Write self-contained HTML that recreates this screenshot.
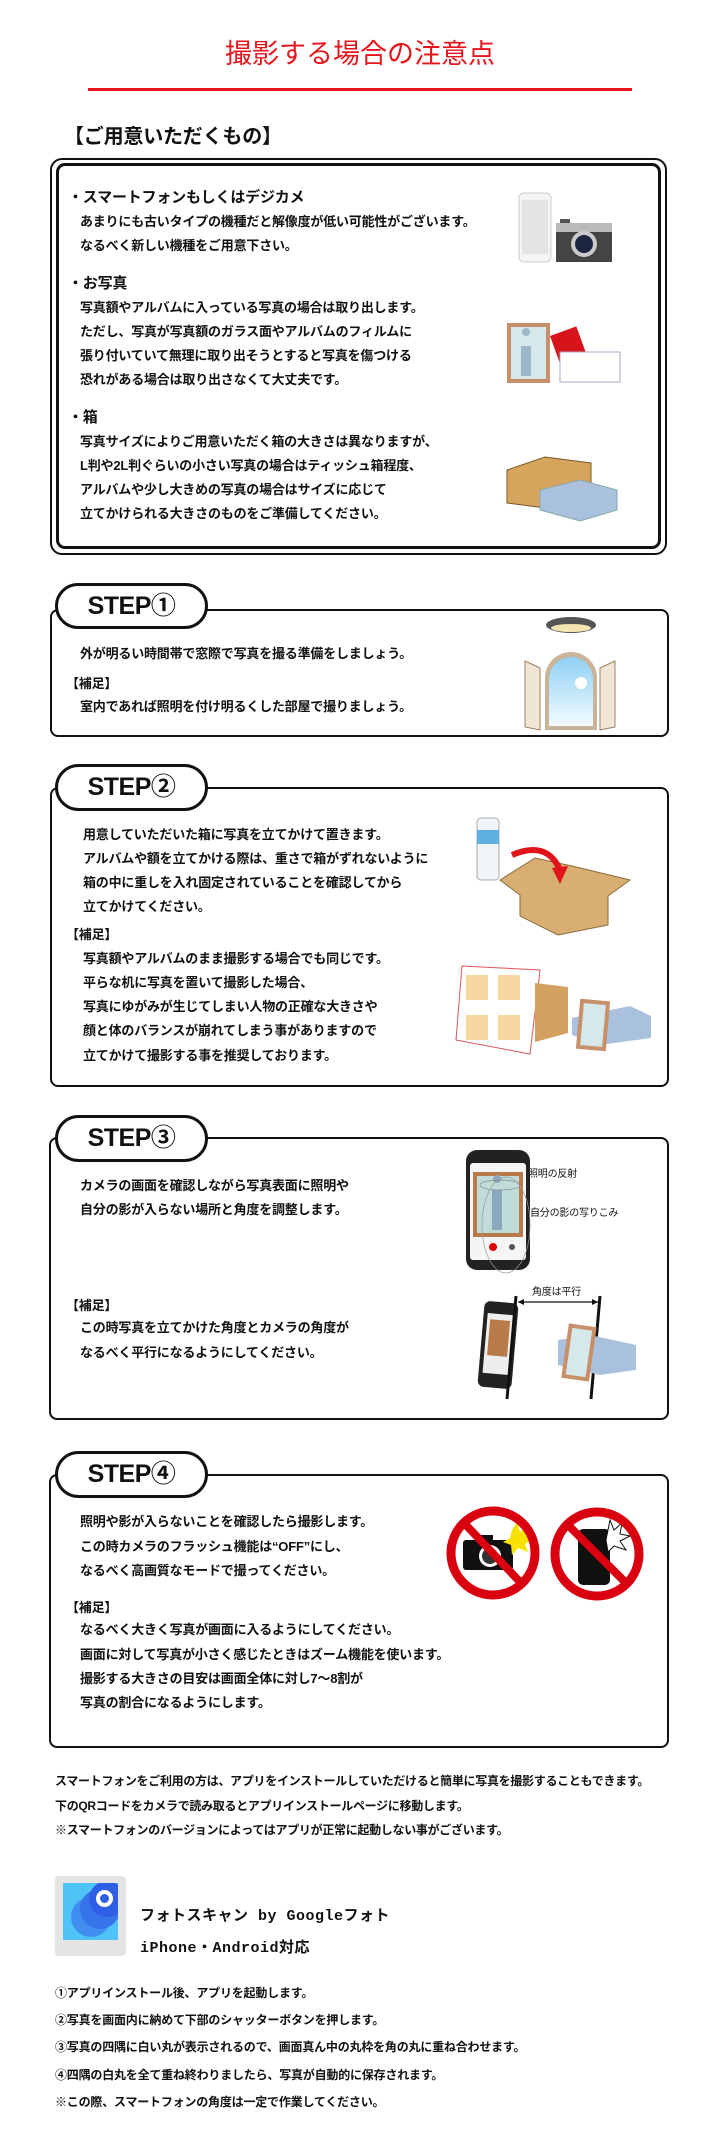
<!DOCTYPE html>
<html><head><meta charset="utf-8"><style>
*{margin:0;padding:0;box-sizing:border-box}
body{width:720px;height:2132px;background:#fff;position:relative;overflow:hidden;font-family:"Liberation Sans","Noto Sans CJK JP",sans-serif;color:#111}
.t{position:absolute;white-space:nowrap;font-weight:bold;font-size:13px;line-height:18px;letter-spacing:-0.2px}
.h{font-size:15px;line-height:20px}
.box{position:absolute;border:2px solid #111;border-radius:8px;background:#fff}
.pill{position:absolute;border:3px solid #111;border-radius:24px;background:#fff;font-family:"Liberation Sans","Noto Sans CJK JP",sans-serif;font-weight:bold;font-size:25px;text-align:center;letter-spacing:-0.5px}
svg{position:absolute;left:0;top:0}
</style></head><body>

<div class="t" style="left:0;width:720px;text-align:center;top:36px;font-size:27px;line-height:36px;color:#e8141b;font-weight:normal;letter-spacing:0">撮影する場合の注意点</div>
<div style="position:absolute;left:88px;top:88px;width:544px;height:3px;background:#e8141b"></div>

<div class="t" style="left:64px;top:125px;font-size:20px;line-height:24px">【ご用意いただくもの】</div>
<div class="box" style="left:50px;top:158px;width:617px;height:397px;border-width:2px;border-radius:12px"></div>
<div class="box" style="left:56px;top:163px;width:605px;height:386px;border-width:3px;border-radius:9px"></div>

<div class="t h" style="left:68px;top:188px">・スマートフォンもしくはデジカメ</div>
<div class="t" style="left:80px;top:213px">あまりにも古いタイプの機種だと解像度が低い可能性がございます。</div>
<div class="t" style="left:80px;top:237px">なるべく新しい機種をご用意下さい。</div>
<div class="t h" style="left:68px;top:274px">・お写真</div>
<div class="t" style="left:80px;top:299px">写真額やアルバムに入っている写真の場合は取り出します。</div>
<div class="t" style="left:80px;top:323px">ただし、写真が写真額のガラス面やアルバムのフィルムに</div>
<div class="t" style="left:80px;top:347px">張り付いていて無理に取り出そうとすると写真を傷つける</div>
<div class="t" style="left:80px;top:371px">恐れがある場合は取り出さなくて大丈夫です。</div>
<div class="t h" style="left:68px;top:408px">・箱</div>
<div class="t" style="left:80px;top:433px">写真サイズによりご用意いただく箱の大きさは異なりますが、</div>
<div class="t" style="left:80px;top:457px">L判や2L判ぐらいの小さい写真の場合はティッシュ箱程度、</div>
<div class="t" style="left:80px;top:481px">アルバムや少し大きめの写真の場合はサイズに応じて</div>
<div class="t" style="left:80px;top:505px">立てかけられる大きさのものをご準備してください。</div>

<!-- STEP1 -->
<div class="box" style="left:50px;top:609px;width:619px;height:128px"></div>
<div class="pill" style="left:55px;top:583px;width:153px;height:46px;line-height:40px">STEP①</div>
<div class="t" style="left:80px;top:645px">外が明るい時間帯で窓際で写真を撮る準備をしましょう。</div>
<div class="t" style="left:66px;top:675px">【補足】</div>
<div class="t" style="left:80px;top:698px">室内であれば照明を付け明るくした部屋で撮りましょう。</div>

<!-- STEP2 -->
<div class="box" style="left:50px;top:787px;width:619px;height:300px"></div>
<div class="pill" style="left:55px;top:764px;width:153px;height:47px;line-height:41px">STEP②</div>
<div class="t" style="left:83px;top:826px">用意していただいた箱に写真を立てかけて置きます。</div>
<div class="t" style="left:83px;top:850px">アルバムや額を立てかける際は、重さで箱がずれないように</div>
<div class="t" style="left:83px;top:874px">箱の中に重しを入れ固定されていることを確認してから</div>
<div class="t" style="left:83px;top:898px">立てかけてください。</div>
<div class="t" style="left:66px;top:926px">【補足】</div>
<div class="t" style="left:83px;top:950px">写真額やアルバムのまま撮影する場合でも同じです。</div>
<div class="t" style="left:83px;top:974px">平らな机に写真を置いて撮影した場合、</div>
<div class="t" style="left:83px;top:998px">写真にゆがみが生じてしまい人物の正確な大きさや</div>
<div class="t" style="left:83px;top:1022px">顔と体のバランスが崩れてしまう事がありますので</div>
<div class="t" style="left:83px;top:1047px">立てかけて撮影する事を推奨しております。</div>

<!-- STEP3 -->
<div class="box" style="left:49px;top:1137px;width:620px;height:283px"></div>
<div class="pill" style="left:55px;top:1115px;width:153px;height:47px;line-height:41px">STEP③</div>
<div class="t" style="left:80px;top:1177px">カメラの画面を確認しながら写真表面に照明や</div>
<div class="t" style="left:80px;top:1201px">自分の影が入らない場所と角度を調整します。</div>
<div class="t" style="left:66px;top:1297px">【補足】</div>
<div class="t" style="left:80px;top:1319px">この時写真を立てかけた角度とカメラの角度が</div>
<div class="t" style="left:80px;top:1344px">なるべく平行になるようにしてください。</div>
<div class="t" style="left:528px;top:1168px;font-size:10px;line-height:14px;font-weight:normal">照明の反射</div>
<div class="t" style="left:530px;top:1207px;font-size:10px;line-height:14px;font-weight:normal">自分の影の写りこみ</div>
<div class="t" style="left:532px;top:1286px;font-size:10px;line-height:14px;font-weight:normal">角度は平行</div>

<!-- STEP4 -->
<div class="box" style="left:49px;top:1474px;width:620px;height:274px"></div>
<div class="pill" style="left:55px;top:1451px;width:153px;height:47px;line-height:41px">STEP④</div>
<div class="t" style="left:80px;top:1513px">照明や影が入らないことを確認したら撮影します。</div>
<div class="t" style="left:80px;top:1538px">この時カメラのフラッシュ機能は“OFF”にし、</div>
<div class="t" style="left:80px;top:1562px">なるべく高画質なモードで撮ってください。</div>
<div class="t" style="left:66px;top:1599px">【補足】</div>
<div class="t" style="left:80px;top:1621px">なるべく大きく写真が画面に入るようにしてください。</div>
<div class="t" style="left:80px;top:1646px">画面に対して写真が小さく感じたときはズーム機能を使います。</div>
<div class="t" style="left:80px;top:1670px">撮影する大きさの目安は画面全体に対し7～8割が</div>
<div class="t" style="left:80px;top:1694px">写真の割合になるようにします。</div>

<div class="t" style="left:55px;top:1772px;font-size:12px;letter-spacing:-0.3px">スマートフォンをご利用の方は、アプリをインストールしていただけると簡単に写真を撮影することもできます。</div>
<div class="t" style="left:55px;top:1797px;font-size:12px;letter-spacing:-0.3px">下のQRコードをカメラで読み取るとアプリインストールページに移動します。</div>
<div class="t" style="left:55px;top:1821px;font-size:12px;letter-spacing:-0.3px">※スマートフォンのバージョンによってはアプリが正常に起動しない事がございます。</div>

<div style="position:absolute;left:55px;top:1876px;width:71px;height:80px;background:#e4e4e4;border-radius:4px"></div>
<div style="position:absolute;left:63px;top:1883px;width:55px;height:57px;background:#4fc3f7;overflow:hidden">
 <div style="position:absolute;left:8px;top:14px;width:40px;height:40px;border-radius:50%;background:#3f8ef0"></div>
 <div style="position:absolute;left:17px;top:6px;width:40px;height:40px;border-radius:50%;background:#3674ea"></div>
 <div style="position:absolute;left:26px;top:-2px;width:36px;height:36px;border-radius:50%;background:#2f5fe6"></div>
 <div style="position:absolute;left:33px;top:7px;width:17px;height:17px;border-radius:50%;border:4px solid #fff"></div>
</div>
<div class="t" style="left:140px;top:1906px;font-size:15px;line-height:22px;font-family:'Liberation Mono','Noto Sans CJK JP',monospace;letter-spacing:0.5px">フォトスキャン by Googleフォト</div>
<div class="t" style="left:140px;top:1938px;font-size:15px;line-height:22px;font-family:'Liberation Mono','Noto Sans CJK JP',monospace;letter-spacing:0.5px">iPhone・Android対応</div>

<div class="t" style="left:55px;top:1984px;font-size:12px">①アプリインストール後、アプリを起動します。</div>
<div class="t" style="left:55px;top:2011px;font-size:12px">②写真を画面内に納めて下部のシャッターボタンを押します。</div>
<div class="t" style="left:55px;top:2038px;font-size:12px">③写真の四隅に白い丸が表示されるので、画面真ん中の丸枠を角の丸に重ね合わせます。</div>
<div class="t" style="left:55px;top:2066px;font-size:12px">④四隅の白丸を全て重ね終わりましたら、写真が自動的に保存されます。</div>
<div class="t" style="left:55px;top:2093px;font-size:12px">※この際、スマートフォンの角度は一定で作業してください。</div>

<svg width="720" height="2132" viewBox="0 0 720 2132">
<defs><linearGradient id="sky" x1="0" y1="0" x2="0" y2="1"><stop offset="0" stop-color="#8fd0f5"/><stop offset="1" stop-color="#f2fbff"/></linearGradient></defs>
<!-- item1 phone & camera -->
<rect x="519" y="193" width="32" height="69" rx="5" fill="#f4f4f4" stroke="#ccc"/>
<rect x="522" y="200" width="26" height="54" fill="#e3e3e3"/>
<rect x="560" y="219" width="10" height="5" fill="#555"/>
<rect x="556" y="223" width="56" height="39" fill="#444"/>
<rect x="556" y="223" width="56" height="9" fill="#bbb"/>
<circle cx="584" cy="244" r="13" fill="#ccc"/><circle cx="584" cy="244" r="9" fill="#1c2740"/>
<!-- item2 frame album -->
<rect x="507" y="323" width="43" height="60" fill="#c8906a"/><rect x="511" y="327" width="35" height="52" fill="#d6e8ea"/>
<path d="M526 336a4 4 0 1 1 0.1 0M521 346h10v30h-10z" fill="#9bb8c8"/>
<rect x="556" y="330" width="28" height="40" fill="#d8141b" transform="rotate(-20 570 350)"/>
<rect x="560" y="352" width="60" height="30" fill="#fff" stroke="#aac"/>
<!-- item3 box tissue -->
<polygon points="507,470 545,457 591,463 591,500 561,510 507,503" fill="#d6a45d" stroke="#7a5a2a"/>
<polygon points="540,490 580,480 617,490 617,510 580,521 540,510" fill="#a9c1dc" stroke="#8aa"/>
<!-- step1 lamp window -->
<ellipse cx="571" cy="625" rx="25" ry="8" fill="#555"/><ellipse cx="571" cy="628" rx="20" ry="4" fill="#f3e4b0"/>
<path d="M545 730V678a26 26 0 0 1 52 0V730z" fill="#c9b49a"/>
<path d="M549 726V679a22 22 0 0 1 44 0V726z" fill="url(#sky)"/>
<polygon points="525,661 540,668 540,730 525,727" fill="#efe6d8" stroke="#a08060"/>
<polygon points="615,661 600,668 600,730 615,727" fill="#efe6d8" stroke="#a08060"/>
<circle cx="581" cy="683" r="6" fill="#fff"/>
<!-- step2 bottle box arrow -->
<rect x="477" y="818" width="22" height="62" rx="4" fill="#eef4f8" stroke="#aaa"/><rect x="477" y="830" width="22" height="14" fill="#5fb0e0"/>
<polygon points="500,880 535,858 572,866 630,880 608,896 608,925 558,935 520,916 520,895" fill="#d8ae72" stroke="#8a6a3a"/>
<path d="M512 855q35-15 48 15" fill="none" stroke="#e0141b" stroke-width="6"/><polygon points="552,868 568,866 560,884" fill="#e0141b"/>
<!-- step2 album -->
<polygon points="456,1040 462,966 540,970 530,1054" fill="#fff" stroke="#d55"/>
<rect x="466" y="975" width="22" height="25" fill="#f6d7a0"/><rect x="498" y="975" width="22" height="25" fill="#f6d7a0"/>
<rect x="466" y="1015" width="22" height="25" fill="#f6d7a0"/><rect x="498" y="1015" width="22" height="25" fill="#f6d7a0"/>
<polygon points="535,983 568,987 568,1033 535,1042" fill="#d3a160"/>
<polygon points="572,1018 630,1006 651,1016 651,1038 600,1045 572,1035" fill="#a9c1dc"/>
<rect x="578" y="1000" width="30" height="50" fill="#c8906a" transform="rotate(5 593 1025)"/><rect x="582" y="1004" width="22" height="42" fill="#d6e8ea" transform="rotate(5 593 1025)"/>
<!-- step3 phone -->
<rect x="466" y="1150" width="64" height="120" rx="11" fill="#222"/>
<rect x="470" y="1163" width="56" height="97" rx="3" fill="#f5f5f5"/>
<rect x="473" y="1172" width="50" height="65" fill="#b87a48"/><rect x="477" y="1176" width="42" height="57" fill="#bfdcd8"/>
<path d="M497 1183a4 4 0 1 1 0.1 0M492 1190h10v40h-10z" fill="#8aa8c0"/>
<circle cx="493" cy="1247" r="4" fill="#d00"/><circle cx="512" cy="1247" r="3" fill="#555"/>
<ellipse cx="500" cy="1185" rx="20" ry="5" fill="none" stroke="#888" stroke-width="0.7"/>
<ellipse cx="506" cy="1225" rx="24" ry="48" fill="none" stroke="#999" stroke-width="0.7"/>
<!-- step3 parallel -->
<rect x="481" y="1302" width="34" height="86" rx="6" fill="#222" transform="rotate(5 498 1345)"/>
<rect x="485" y="1314" width="26" height="60" fill="#eee" transform="rotate(5 498 1345)"/>
<rect x="488" y="1320" width="20" height="36" fill="#b87a48" transform="rotate(5 498 1345)"/>
<line x1="516" y1="1296" x2="507" y2="1399" stroke="#111" stroke-width="3"/>
<line x1="600" y1="1296" x2="591" y2="1399" stroke="#111" stroke-width="3"/>
<line x1="518" y1="1302" x2="598" y2="1302" stroke="#111" stroke-width="1.2"/>
<polygon points="518,1302 524,1299 524,1305" fill="#111"/><polygon points="598,1302 592,1299 592,1305" fill="#111"/>
<polygon points="558,1340 590,1335 636,1345 636,1370 600,1375 558,1365" fill="#a9c1dc"/>
<rect x="565" y="1325" width="28" height="55" fill="#c8906a" transform="rotate(8 579 1352)"/><rect x="569" y="1329" width="20" height="47" fill="#d6e8ea" transform="rotate(8 579 1352)"/>
<!-- step4 no signs -->
<rect x="463" y="1540" width="50" height="30" rx="3" fill="#111"/><rect x="475" y="1535" width="18" height="6" fill="#111"/>
<circle cx="490" cy="1556" r="11" fill="#fff"/><circle cx="490" cy="1556" r="8" fill="#333"/>
<polygon points="512,1530 517,1522 520,1532 528,1526 526,1536 533,1540 525,1544 528,1552 518,1548 512,1555 511,1545 503,1542 510,1538" fill="#f7e200"/>
<circle cx="493" cy="1553" r="42" fill="none" stroke="#d9000f" stroke-width="9"/>
<line x1="465" y1="1524" x2="521" y2="1583" stroke="#d9000f" stroke-width="8"/>
<rect x="578" y="1529" width="32" height="56" rx="5" fill="#111"/>
<polygon points="610,1520 614,1530 622,1523 620,1534 630,1536 620,1541 626,1550 614,1546 608,1552 606,1540" fill="#fff" stroke="#111"/>
<circle cx="597" cy="1554" r="42" fill="none" stroke="#d9000f" stroke-width="9"/>
<line x1="568" y1="1525" x2="626" y2="1583" stroke="#d9000f" stroke-width="8"/>
</svg>
</body></html>
